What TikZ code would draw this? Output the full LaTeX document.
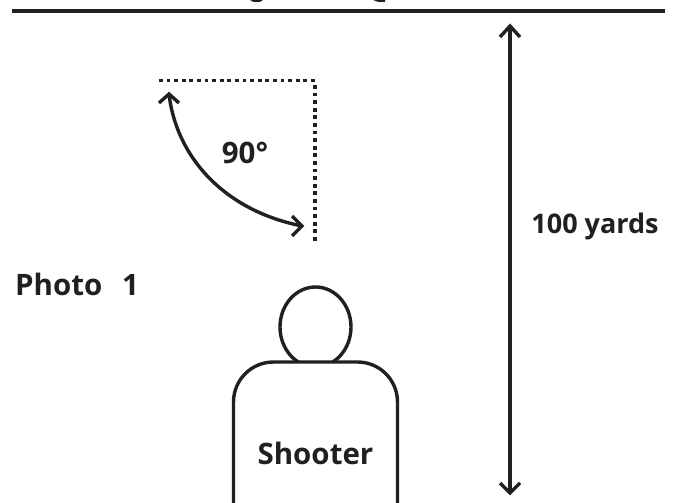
\documentclass[tikz,border=0pt]{standalone}
\usetikzlibrary{shapes.geometric}
\usepackage{fontspec}
\setmainfont{Open Sans}[BoldFont={Open Sans Bold}]
\definecolor{ink}{HTML}{231F20}
\tikzset{
  ln/.style={draw=ink,line width=3.4pt},
  dot/.style={draw=ink,line width=3.8pt,dash pattern=on 3.8pt off 3.8pt},
  lbl/.style={text=ink,font=\bfseries\fontsize{27}{29}\selectfont,inner sep=0pt},
  lblbig/.style={text=ink,font=\bfseries\fontsize{29.5}{31}\selectfont,inner sep=0pt},
  hd/.style={draw=ink,line width=3.4pt,line cap=butt,line join=miter}
}
\begin{document}
\begin{tikzpicture}[x=1pt,y=-1pt]
\useasboundingbox (0,0) rectangle (673,503);
\fill[white] (0,0) rectangle (673,503);
% top rule and clipped descenders
\coordinate (ruleL) at (12,11);
\coordinate (ruleR) at (665,11);
\draw[draw=ink,line width=4.5pt] (ruleL) -- (ruleR);
\fill[ink] (250,0) -- (263,0) -- (260,1.8) -- (253,1.8) -- cycle;
\fill[ink] (373,0) -- (385,0) -- (385,1.8) -- (378,1.8) -- cycle;
% range arrow
\coordinate (rt) at (510,26);
\coordinate (rb) at (510,493);
\draw[ln] (rt) -- (rb);
\draw[hd] (500,37) -- (rt) -- (520,37);
\draw[hd] (500,483) -- (rb) -- (520,483);
% dotted right angle
\coordinate (da) at (159,80.5);
\coordinate (db) at (315,80.5);
\coordinate (dc) at (315,241);
\draw[dot] (da) -- (db);
\draw[dot] (315,85) -- (dc);
% arc arrow
\coordinate (aa) at (169,94);
\coordinate (ab) at (302,226);
\draw[ln] (aa) .. controls (176,155) and (222,210) .. (ab);
\draw[hd] (159,103) -- (aa) -- (179,103);
\draw[hd] (292,216) -- (ab) -- (292,236);
% figure
\node[draw=ink,line width=3.4pt,ellipse,minimum width=71pt,minimum height=80pt,inner sep=0pt] (head) at (315.5,327) {};
\coordinate (bl) at (233.5,503);
\coordinate (br) at (397.5,503);
\draw[ln,fill=white,rounded corners=40pt] (bl) -- (233.5,362) -- (397.5,362) -- (br);
% labels
\node[lblbig] (deg) at (245,153) {90°};
\node[lbl] (yards) at (595,226) {100 yards};
\node[lblbig,anchor=west] (photo) at (15,284) {Photo\hspace{12pt} 1};
\node[lblbig] (shooter) at (315.5,453) {Shooter};
\end{tikzpicture}
\end{document}
